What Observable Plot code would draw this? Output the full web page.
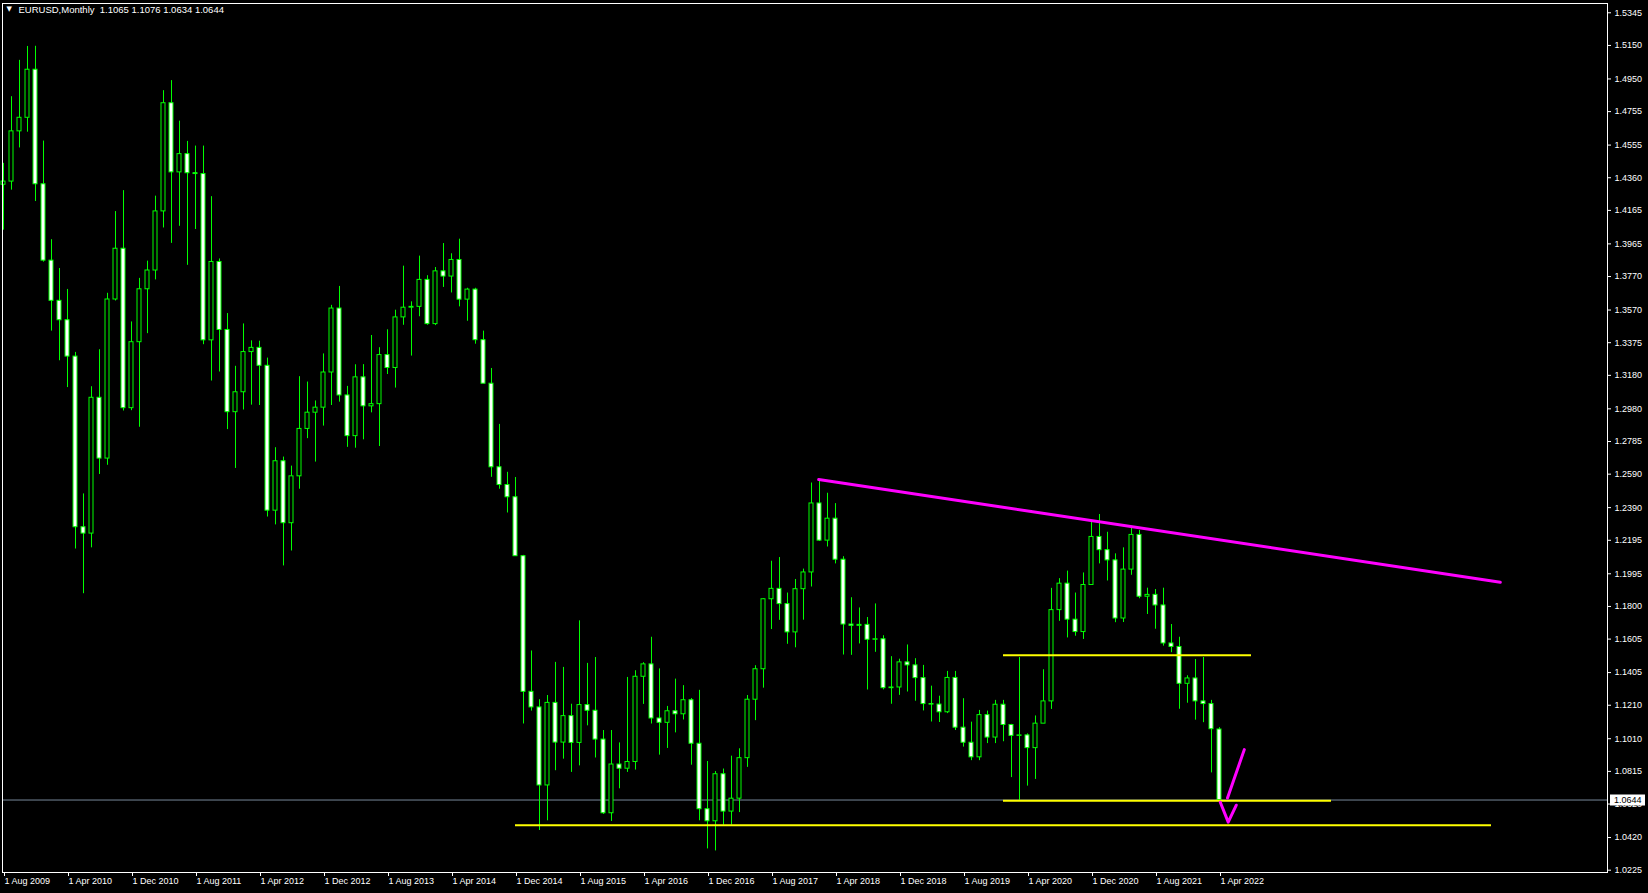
<!DOCTYPE html>
<html>
<head>
<meta charset="utf-8">
<script src="https://cdn.jsdelivr.net/npm/d3@7"></script>
<script src="https://cdn.jsdelivr.net/npm/@observablehq/plot@0.6"></script>
<style>
  html, body { margin: 0; padding: 0; background: #000; overflow: hidden; }
</style>
</head>
<body>
<div id="chart"></div>
<script>
// ---------- DATA ----------
const symbolTitle = "EURUSD,Monthly";
const lastQuote = [1.1065, 1.1076, 1.0634, 1.0644]; // O H L C of current bar

// Monthly candles, Aug 2009 .. Apr 2022 (index 0 = Aug 2009)
const opens = [
  1.4318, 1.4337, 1.4637, 1.4718, 1.5005,
  1.4321, 1.3865, 1.3625, 1.3509, 1.3292, 1.2273, 1.2235, 1.3046, 1.2683, 1.3633, 1.3936, 1.2984,
  1.3378, 1.3694, 1.3806, 1.4159, 1.4805, 1.4392, 1.4501, 1.4387, 1.4382, 1.3389, 1.3857, 1.3451,
  1.2960, 1.3079, 1.3319, 1.3344, 1.3237, 1.2372, 1.2667, 1.2297, 1.2577, 1.2860, 1.2957, 1.2987,
  1.3197, 1.3579, 1.3060, 1.2817, 1.3168, 1.2995, 1.3008, 1.3301, 1.3224, 1.3526, 1.3584, 1.3589,
  1.3750, 1.3486, 1.3801, 1.3770, 1.3869, 1.3632, 1.3692, 1.3390, 1.3130, 1.2631, 1.2525, 1.2452,
  1.2100, 1.1290, 1.1197, 1.0731, 1.1224, 1.0987, 1.1145, 1.0985, 1.1211, 1.1177, 1.1005, 1.0565,
  1.0856, 1.0831, 1.0871, 1.1380, 1.1454, 1.1131, 1.1105, 1.1174, 1.1156, 1.1240, 1.0980, 1.0589,
  1.0517, 1.0798, 1.0575, 1.0652, 1.0894, 1.1243, 1.1425, 1.1843, 1.1905, 1.1814, 1.1645, 1.1903,
  1.2003, 1.2415, 1.2193, 1.2324, 1.2079, 1.1692, 1.1684, 1.1690, 1.1601, 1.1604, 1.1312, 1.1316,
  1.1466, 1.1448, 1.1372, 1.1217, 1.1214, 1.1168, 1.1373, 1.1076, 1.0986, 1.0899, 1.1151, 1.1017,
  1.1213, 1.1092, 1.1027, 1.1030, 1.0954, 1.1100, 1.1233, 1.1778, 1.1936, 1.1721, 1.1647, 1.1928,
  1.2215, 1.2136, 1.2075, 1.1728, 1.2020, 1.2227, 1.1858, 1.1869, 1.1806, 1.1579, 1.1558, 1.1338,
  1.1370, 1.1233, 1.1217, 1.1065
];
const highs = [
  1.4446, 1.4844, 1.5061, 1.5144, 1.5145,
  1.4579, 1.3990, 1.3818, 1.3693, 1.3317, 1.2472, 1.3112, 1.3333, 1.3670, 1.4158, 1.4283, 1.3499,
  1.3759, 1.3862, 1.4250, 1.4880, 1.4940, 1.4698, 1.4577, 1.4549, 1.4549, 1.4247, 1.3875, 1.3549,
  1.3234, 1.3487, 1.3386, 1.3384, 1.3283, 1.2748, 1.2692, 1.2638, 1.3172, 1.3140, 1.3027, 1.3308,
  1.3598, 1.3711, 1.3114, 1.3243, 1.3244, 1.3418, 1.3345, 1.3452, 1.3569, 1.3832, 1.3619, 1.3892,
  1.3775, 1.3824, 1.3967, 1.3906, 1.3993, 1.3700, 1.3700, 1.3444, 1.3221, 1.2887, 1.2601, 1.2570,
  1.2105, 1.1534, 1.1243, 1.1268, 1.1466, 1.1436, 1.1216, 1.1714, 1.1460, 1.1495, 1.1059, 1.1059,
  1.0985, 1.1376, 1.1416, 1.1464, 1.1616, 1.1427, 1.1203, 1.1366, 1.1327, 1.1250, 1.1299, 1.0874,
  1.0814, 1.0829, 1.0906, 1.0950, 1.1268, 1.1446, 1.1846, 1.2070, 1.2092, 1.1880, 1.1961, 1.2023,
  1.2537, 1.2555, 1.2476, 1.2414, 1.2097, 1.1852, 1.1791, 1.1734, 1.1815, 1.1625, 1.1500, 1.1485,
  1.1570, 1.1488, 1.1448, 1.1324, 1.1264, 1.1412, 1.1412, 1.1249, 1.1109, 1.1179, 1.1175, 1.1239,
  1.1239, 1.1096, 1.1495, 1.1039, 1.1146, 1.1422, 1.1908, 1.1966, 1.2011, 1.1880, 1.2000, 1.2310,
  1.2349, 1.2243, 1.2114, 1.2150, 1.2266, 1.2254, 1.1909, 1.1901, 1.1909, 1.1692, 1.1616, 1.1386,
  1.1483, 1.1495, 1.1239, 1.1076
];
const lows = [
  1.4047, 1.4286, 1.4538, 1.4632, 1.4218,
  1.3856, 1.3444, 1.3267, 1.3107, 1.2143, 1.1876, 1.2150, 1.2588, 1.2643, 1.3624, 1.2967, 1.2969,
  1.2870, 1.3429, 1.3750, 1.4060, 1.3968, 1.4070, 1.3837, 1.4051, 1.3363, 1.3146, 1.3200, 1.2856,
  1.2624, 1.2973, 1.3002, 1.3000, 1.2334, 1.2287, 1.2042, 1.2131, 1.2500, 1.2802, 1.2662, 1.2877,
  1.3000, 1.3020, 1.2750, 1.2745, 1.2795, 1.2956, 1.2755, 1.3185, 1.3104, 1.3479, 1.3295, 1.3530,
  1.3479, 1.3477, 1.3705, 1.3672, 1.3589, 1.3503, 1.3366, 1.3130, 1.2571, 1.2500, 1.2358, 1.2100,
  1.1098, 1.1175, 1.0462, 1.0520, 1.0819, 1.0888, 1.0809, 1.0848, 1.1087, 1.0895, 1.0558, 1.0516,
  1.0711, 1.0809, 1.0823, 1.1215, 1.1098, 1.0912, 1.0952, 1.1045, 1.1122, 1.0852, 1.0520, 1.0352,
  1.0340, 1.0494, 1.0494, 1.0569, 1.0839, 1.1118, 1.1312, 1.1662, 1.1717, 1.1574, 1.1553, 1.1718,
  1.1916, 1.2188, 1.2155, 1.2054, 1.1510, 1.1508, 1.1576, 1.1301, 1.1526, 1.1302, 1.1216, 1.1269,
  1.1289, 1.1234, 1.1176, 1.1110, 1.1107, 1.1160, 1.1059, 1.0960, 1.0879, 1.0879, 1.0981, 1.0981,
  1.0992, 1.0778, 1.0636, 1.0727, 1.0767, 1.1100, 1.1185, 1.1711, 1.1612, 1.1622, 1.1603, 1.1926,
  1.2054, 1.1952, 1.1703, 1.1704, 1.1986, 1.1846, 1.1752, 1.1664, 1.1563, 1.1524, 1.1186, 1.1222,
  1.1121, 1.1106, 1.0806, 1.0634
];
const closes = [
  1.4337, 1.4637, 1.4718, 1.5005, 1.4321,
  1.3865, 1.3625, 1.3509, 1.3292, 1.2273, 1.2235, 1.3046, 1.2683, 1.3633, 1.3936, 1.2984, 1.3378,
  1.3694, 1.3806, 1.4159, 1.4805, 1.4392, 1.4501, 1.4387, 1.4382, 1.3389, 1.3857, 1.3451, 1.2960,
  1.3079, 1.3319, 1.3344, 1.3237, 1.2372, 1.2667, 1.2297, 1.2577, 1.2860, 1.2957, 1.2987, 1.3197,
  1.3579, 1.3060, 1.2817, 1.3168, 1.2995, 1.3008, 1.3301, 1.3224, 1.3526, 1.3584, 1.3589, 1.3750,
  1.3486, 1.3801, 1.3770, 1.3869, 1.3632, 1.3692, 1.3390, 1.3130, 1.2631, 1.2525, 1.2452, 1.2100,
  1.1290, 1.1197, 1.0731, 1.1224, 1.0987, 1.1145, 1.0985, 1.1211, 1.1177, 1.1005, 1.0565, 1.0856,
  1.0831, 1.0871, 1.1380, 1.1454, 1.1131, 1.1105, 1.1174, 1.1156, 1.1240, 1.0980, 1.0589, 1.0517,
  1.0798, 1.0575, 1.0652, 1.0894, 1.1243, 1.1425, 1.1843, 1.1905, 1.1814, 1.1645, 1.1903, 1.2003,
  1.2415, 1.2193, 1.2324, 1.2079, 1.1692, 1.1684, 1.1690, 1.1601, 1.1604, 1.1312, 1.1316, 1.1466,
  1.1448, 1.1372, 1.1217, 1.1214, 1.1168, 1.1373, 1.1076, 1.0986, 1.0899, 1.1151, 1.1017, 1.1213,
  1.1092, 1.1027, 1.1030, 1.0954, 1.1100, 1.1233, 1.1778, 1.1936, 1.1721, 1.1647, 1.1928, 1.2215,
  1.2136, 1.2075, 1.1728, 1.2020, 1.2227, 1.1858, 1.1869, 1.1806, 1.1579, 1.1558, 1.1338, 1.1370,
  1.1233, 1.1217, 1.1067, 1.0644
];

// Time axis: bar index of each label and its text
const xTickBars = [0, 8, 16, 24, 32, 40, 48, 56, 64, 72, 80, 88, 96, 104, 112, 120, 128, 136, 144, 152];
const xTickLabels = [
  "1 Aug 2009", "1 Apr 2010", "1 Dec 2010", "1 Aug 2011", "1 Apr 2012", "1 Dec 2012", "1 Aug 2013",
  "1 Apr 2014", "1 Dec 2014", "1 Aug 2015", "1 Apr 2016", "1 Dec 2016", "1 Aug 2017", "1 Apr 2018",
  "1 Dec 2018", "1 Aug 2019", "1 Apr 2020", "1 Dec 2020", "1 Aug 2021", "1 Apr 2022"
];

// Price axis
const yTickValues = [1.5345, 1.5150, 1.4950, 1.4755, 1.4555, 1.4360, 1.4165, 1.3965, 1.3770, 1.3570,
  1.3375, 1.3180, 1.2980, 1.2785, 1.2590, 1.2390, 1.2195, 1.1995, 1.1800, 1.1605, 1.1405, 1.1210,
  1.1010, 1.0815, 1.0620, 1.0420, 1.0225];
const yTickLabels = yTickValues.map(v => v.toFixed(4));
const priceDomain = [1.02112, 1.54005];
const barDomain = [-0.125, 200.5];

// Drawn objects (bar index, price)
const trendBars = [101.9, 187.1];
const trendPrices = [1.2558, 1.1945];
const levelPrices = [1.1509, 1.0640, 1.0494];
const levelFromBars = [125, 125, 64];
const levelToBars = [156, 166, 186];
const arrowBars = [155.1, 153.0];
const arrowPrices = [1.0945, 1.0656];
const checkBars = [152.1, 153.09, 154.1];
const checkPrices = [1.0631, 1.0512, 1.0613];

// ---------- BUILD ----------
const candles = opens.map((o, i) => ({i, open: o, high: highs[i], low: lows[i], close: closes[i]}));
const bulls = candles.filter(d => d.close > d.open);
const bears = candles.filter(d => d.close < d.open);
const dojis = candles.filter(d => d.close === d.open);
const trend = trendBars.map((b, k) => ({b, p: trendPrices[k]}));
const levels = levelPrices.map((p, k) => ({p, from: levelFromBars[k], to: levelToBars[k]}));
const arrow = arrowBars.map((b, k) => ({b, p: arrowPrices[k]}));
const check = checkBars.map((b, k) => ({b, p: checkPrices[k]}));

const LIME = "#00ff00";
const HALF = 0.25;

function priceBox(index, scales, values, dimensions) {
  const y = scales.y(lastQuote[3]);
  const x0 = dimensions.width - dimensions.marginRight + 3;
  const g = d3.create("svg:g");
  g.append("rect").attr("x", x0).attr("y", Math.round(y) - 5.5).attr("width", 35).attr("height", 11).attr("fill", "white");
  g.append("text").attr("x", x0 + 4).attr("y", y).attr("dy", "0.36em")
    .attr("text-anchor", "start").attr("fill", "black").attr("font-size", 9)
    .text(lastQuote[3].toFixed(4));
  return g.node();
}

const chart = Plot.plot({
  width: 1648,
  height: 893,
  marginLeft: 2,
  marginRight: 41,
  marginTop: 3,
  marginBottom: 21,
  style: {
    background: "#000",
    color: "#fff",
    fontFamily: "'Liberation Sans', Arial, sans-serif",
    fontSize: "9px",
    overflow: "visible"
  },
  x: {type: "linear", domain: barDomain},
  y: {type: "linear", domain: priceDomain},
  marks: [
    Plot.ruleY([lastQuote[3]], {y: d => d, stroke: "#778899", strokeWidth: 1}),
    Plot.ruleX(candles, {x: d => d.i, y1: d => d.low, y2: d => d.high, stroke: LIME, strokeWidth: 1}),
    Plot.rect(bulls, {x1: d => d.i - HALF, x2: d => d.i + HALF, y1: d => d.open, y2: d => d.close,
      fill: "black", stroke: LIME, strokeWidth: 1}),
    Plot.rect(bears, {x1: d => d.i - HALF, x2: d => d.i + HALF, y1: d => d.open, y2: d => d.close,
      fill: "white", stroke: LIME, strokeWidth: 1}),
    Plot.ruleY(dojis, {y: d => d.open, x1: d => d.i - HALF, x2: d => d.i + HALF, stroke: LIME}),
    Plot.ruleY(levels, {y: d => d.p, x1: d => d.from, x2: d => d.to, stroke: "#ffff00", strokeWidth: 2}),
    Plot.line(trend, {x: d => d.b, y: d => d.p, stroke: "#ff00ff", strokeWidth: 3}),
    Plot.line(arrow, {x: d => d.b, y: d => d.p, stroke: "#ff00ff", strokeWidth: 3}),
    Plot.line(check, {x: d => d.b, y: d => d.p, stroke: "#ff00ff", strokeWidth: 3}),
    Plot.frame({stroke: "white", strokeWidth: 1}),
    Plot.axisY(yTickValues, {anchor: "right", label: null, tickSize: 3, tickPadding: 4,
      tickFormat: d => yTickLabels[yTickValues.indexOf(d)]}),
    Plot.axisX(xTickBars, {anchor: "bottom", label: null, tickSize: 4, tickPadding: 1,
      textAnchor: "start", dx: 1, tickFormat: d => xTickLabels[xTickBars.indexOf(d)]}),
    priceBox,
    Plot.text(["\u25BC"], {text: d => d, frameAnchor: "top-left", dx: 4, dy: 3, lineAnchor: "top",
      textAnchor: "start", fill: "white", fontSize: 7, fontFamily: "DejaVu Sans"}),
    Plot.text([`${symbolTitle}  ${lastQuote.map(v => v.toFixed(4)).join(" ")}`], {text: d => d,
      frameAnchor: "top-left", dx: 16, dy: 3, lineAnchor: "top", textAnchor: "start", fill: "white", fontSize: 9.5})
  ]
});
document.getElementById("chart").appendChild(chart);
</script>
</body>
</html>
